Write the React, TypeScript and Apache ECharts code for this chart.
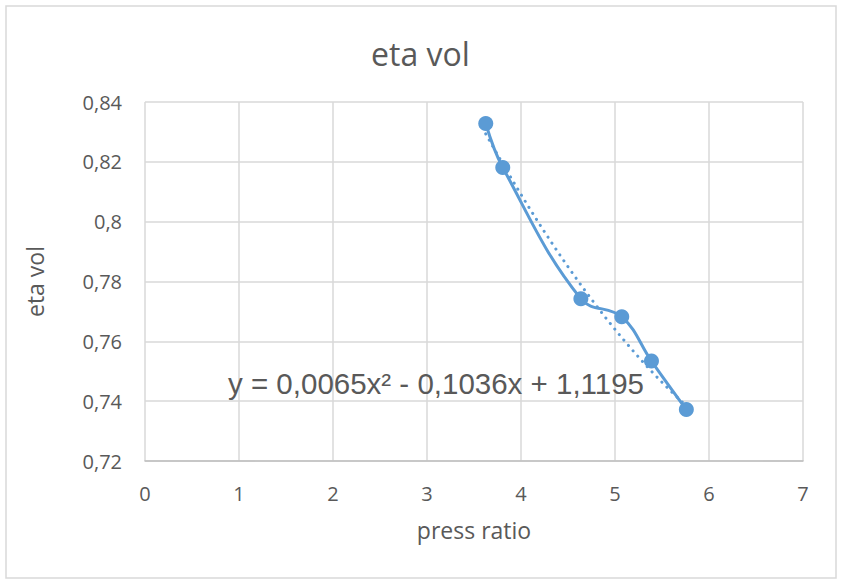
import React, { useEffect, useRef } from "react";
import * as echarts from "echarts";

const pressRatio = [3.625, 3.806, 4.637, 5.072, 5.388, 5.759];
const etaVol = [0.8328, 0.8181, 0.7742, 0.7682, 0.7534, 0.7372];
const trendCoef = [0.0065, -0.1036, 1.1195];
const equationText = "y = 0,0065x² - 0,1036x + 1,1195";
const xTicks = [0, 1, 2, 3, 4, 5, 6, 7];
const yTicks = [0.72, 0.74, 0.76, 0.78, 0.8, 0.82, 0.84];

const TXT = "#595959";
const BLUE = "#5B9BD5";
const FONT = "'Open Sans', sans-serif";

export default function App() {
  const ref = useRef<HTMLDivElement>(null);
  useEffect(() => {
    if (!ref.current) return;
    const chart = echarts.init(ref.current, undefined, { renderer: "svg" });
    const xMin = pressRatio[0];
    const xMax = pressRatio[pressRatio.length - 1];
    const trend: number[][] = [];
    const steps = 40;
    for (let i = 0; i <= steps; i++) {
      const x = xMin + ((xMax - xMin) * i) / steps;
      trend.push([x, trendCoef[0] * x * x + trendCoef[1] * x + trendCoef[2]]);
    }
    const fmt = (v: number) => String(Math.round(v * 100) / 100).replace(".", ",");
    chart.setOption({
      animation: false,
      backgroundColor: "#fff",
      title: {
        text: "eta vol",
        left: "center",
        top: 32,
        textStyle: { color: TXT, fontSize: 32, fontWeight: "normal", fontFamily: FONT },
      },
      grid: { left: 145, right: 38, top: 102, bottom: 124, containLabel: false },
      xAxis: {
        type: "value",
        min: xTicks[0],
        max: xTicks[xTicks.length - 1],
        interval: 1,
        name: "press ratio",
        nameLocation: "middle",
        nameGap: 57,
        nameTextStyle: { color: TXT, fontSize: 23, fontFamily: FONT },
        axisLine: { show: true, lineStyle: { color: "#BFBFBF", width: 1.5 } },
        axisTick: { show: false },
        axisLabel: { color: TXT, fontSize: 20, fontFamily: FONT, margin: 22 },
        splitLine: { show: true, lineStyle: { color: "#D9D9D9", width: 1.5 } },
      },
      yAxis: {
        type: "value",
        min: yTicks[0],
        max: yTicks[yTicks.length - 1],
        interval: 0.02,
        name: "eta vol",
        nameLocation: "middle",
        nameGap: 99,
        nameRotate: 90,
        nameTextStyle: { color: TXT, fontSize: 23, fontFamily: FONT },
        axisLine: { show: false },
        axisTick: { show: false },
        axisLabel: { color: TXT, fontSize: 20, fontFamily: FONT, margin: 23, formatter: fmt },
        splitLine: { show: true, lineStyle: { color: "#D9D9D9", width: 1.5 } },
      },
      series: [
        {
          type: "line",
          data: trend,
          showSymbol: false,
          symbol: "none",
          lineStyle: { color: BLUE, width: 3, type: [0.1, 7], cap: "round" },
          z: 2,
        },
        {
          type: "line",
          data: pressRatio.map((x, i) => [x, etaVol[i]]),
          smooth: 0.4,
          symbol: "circle",
          symbolSize: 15,
          itemStyle: { color: BLUE },
          lineStyle: { color: BLUE, width: 3 },
          z: 3,
        },
      ],
      graphic: [
        {
          type: "rect",
          shape: { x: 6, y: 6, width: 830, height: 572 },
          style: { fill: "none", stroke: "#D9D9D9", lineWidth: 1.5 },
          silent: true,
        },
        {
          type: "text",
          x: 228,
          y: 383,
          style: {
            text: equationText,
            fill: TXT,
            font: "29.5px 'Liberation Sans', Arial, sans-serif",
            verticalAlign: "middle",
          },
          z: 10,
        },
      ],
    });
    return () => chart.dispose();
  }, []);
  return (
    <div
      ref={ref}
      style={{ position: "absolute", left: 0, top: 0, width: 841, height: 585 }}
    />
  );
}
